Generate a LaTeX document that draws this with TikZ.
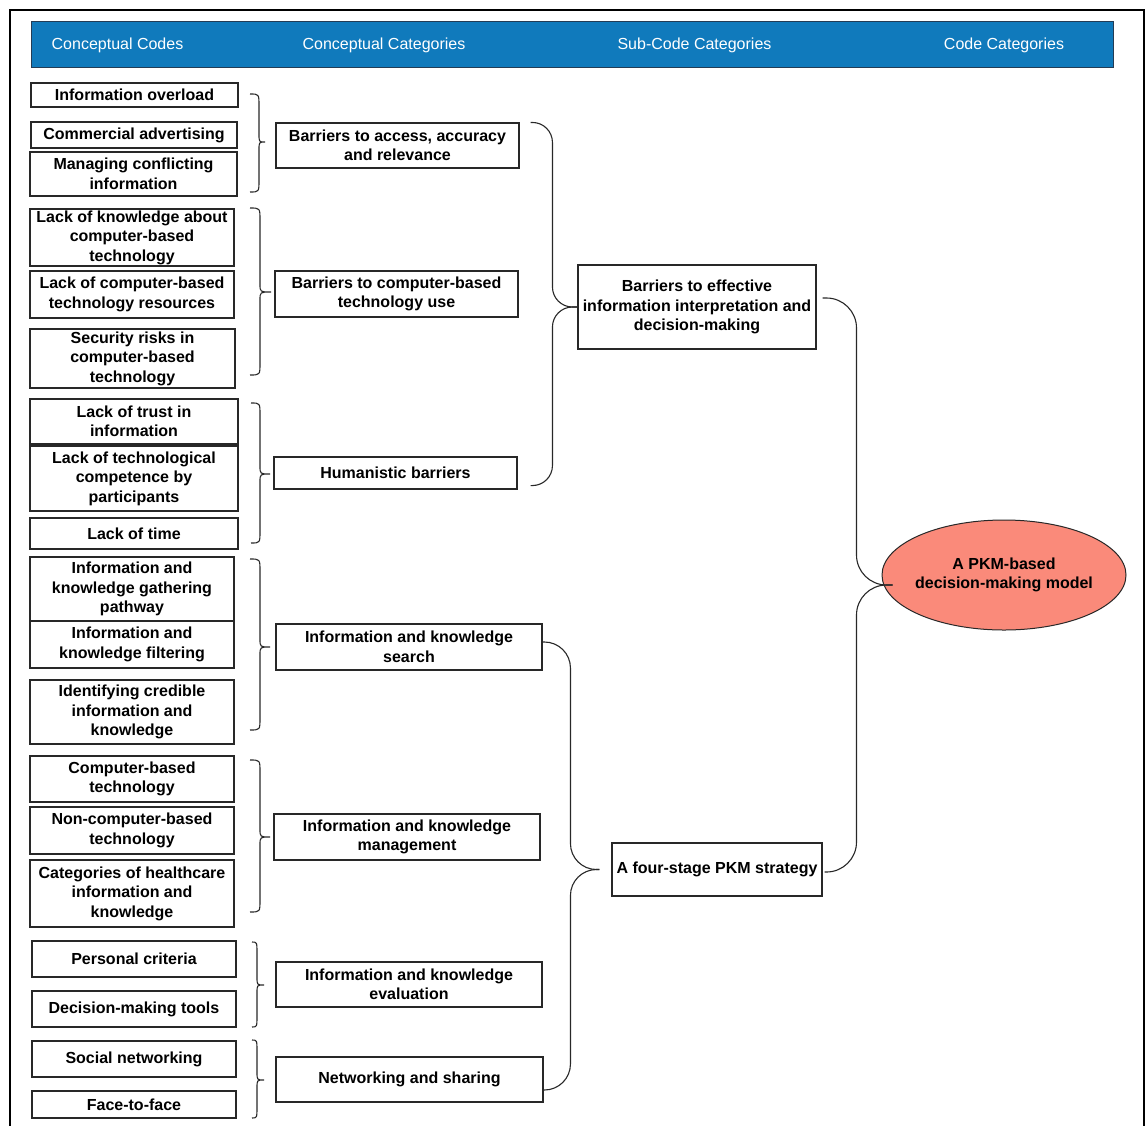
\documentclass[tikz,border=0pt]{standalone}
\usepackage{fontspec}
\setmainfont{Liberation Sans}
\usetikzlibrary{calc,shapes.geometric}

\definecolor{hdrblue}{RGB}{16,122,188}
\definecolor{hdredge}{RGB}{35,60,85}
\definecolor{salmon}{RGB}{250,138,122}
\definecolor{edge}{RGB}{40,40,40}

\tikzset{
  box/.style={draw=edge, line width=1.1pt, fill=white, inner sep=0pt, align=center,
    font=\bfseries\fontsize{16}{19.5}\selectfont},
  hdr/.style={text=white, inner sep=0pt, font=\fontsize{16}{19}\selectfont},
  brace/.style={draw=edge, line width=1.1pt},
}

% box: name, centre x, centre y, width, height, text
\newcommand{\bx}[6]{\node[box, minimum width=#4, minimum height=#5] (#1) at (#2,#3) {#6};}
% curly bracket: start x, spine x, tip x, top y, tip y, bottom y
\newcommand{\curly}[6]{\draw[brace] (#1,#4) .. controls (#2,#4) .. (#2,#4+12) -- (#2,#5-8)
  .. controls (#2,#5) .. (#3,#5) .. controls (#2,#5) .. (#2,#5+8) -- (#2,#6-12)
  .. controls (#2,#6) .. (#1,#6);}

\begin{document}
\begin{tikzpicture}[x=1pt, y=-1pt]
\useasboundingbox (0,0) rectangle (1146,1125);
\fill[white] (0,0) rectangle (1146,1125);

% outer frame
\draw[line width=2pt] (10,1130) -- (10,10) -- (1144,10) -- (1144,1130);

% header bar
\node[draw=hdredge, line width=0.8pt, fill=hdrblue, minimum width=1082, minimum height=46, inner sep=0pt] (bar) at (572,44) {};
\node[hdr] (h1) at (117.5,45.5) {Conceptual Codes};
\node[hdr] (h2) at (384,45.5) {Conceptual Categories};
\node[hdr] (h3) at (694.5,45.5) {Sub-Code Categories};
\node[hdr] (h4) at (1004,45.5) {Code Categories};

% conceptual codes
\bx{io}{134.5}{95}{207}{24}{Information overload}
\bx{ca}{134}{135}{206}{26}{Commercial advertising}
\bx{mci}{133.5}{174}{207}{44}{Managing conflicting\\information}
\bx{lk}{132}{237.5}{204}{57}{Lack of knowledge about\\computer-based\\technology}
\bx{lcr}{132}{294.5}{204}{47}{Lack of computer-based\\technology resources}
\bx{sr}{132.5}{358.5}{205}{59}{Security risks in\\computer-based\\technology}
\bx{lt}{134}{421.5}{208}{45}{Lack of trust in\\information}
\bx{ltc}{134}{478.5}{208}{65}{Lack of technological\\competence by\\participants}
\bx{lot}{134}{533.5}{208}{31}{Lack of time}
\bx{ikg}{132}{589}{204}{64}{Information and\\knowledge gathering\\pathway}
\bx{ikf}{132}{644.5}{204}{47}{Information and\\knowledge filtering}
\bx{icik}{132}{712}{204}{64}{Identifying credible\\information and\\knowledge}
\bx{cbt}{132}{779}{204}{46}{Computer-based\\technology}
\bx{ncbt}{132}{830.5}{204}{47}{Non-computer-based\\technology}
\bx{chik}{132}{893.5}{204}{67}{Categories of healthcare\\information and\\knowledge}
\bx{pc}{134}{959}{204}{36}{Personal criteria}
\bx{dmt}{134}{1009}{204}{36}{Decision-making tools}
\bx{sn}{134}{1059}{204}{36}{Social networking}
\bx{ftf}{134}{1104.5}{204}{27}{Face-to-face}

% conceptual categories
\bx{bacc}{397.5}{145.5}{243}{45}{Barriers to access, accuracy\\and relevance}
\bx{bcbt}{396.5}{294}{243}{46}{Barriers to computer-based\\technology use}
\bx{hum}{395.5}{473}{243}{32}{Humanistic barriers}
\bx{iks}{409}{647}{266}{46}{Information and knowledge\\search}
\bx{ikm}{407}{837}{266}{46}{Information and knowledge\\management}
\bx{ike}{409}{984.5}{266}{45}{Information and knowledge\\evaluation}
\bx{ns}{409.5}{1079.5}{267}{45}{Networking and sharing}

% sub-code categories
\bx{beff}{697}{307}{238}{84}{Barriers to effective\\information interpretation and\\decision-making}
\bx{pkm}{717}{869.5}{210}{53}{A four-stage PKM strategy}

% code category
\node[ellipse, draw=edge, line width=1pt, fill=salmon, minimum width=244, minimum height=110,
  inner xsep=-12pt, inner ysep=0pt, align=center, font=\bfseries\fontsize{16}{19.5}\selectfont] (ell) at (1004,575)
  {A PKM-based\\decision-making model};

% brackets grouping the conceptual codes
\curly{250}{259}{265}{94}{142}{192}
\curly{250}{260}{271}{208}{292}{375}
\curly{251}{260}{270}{403}{474}{543}
\curly{250}{260}{270}{559}{647}{730}
\curly{250}{260}{270}{760}{837}{912}
\curly{252}{257}{264}{942}{985}{1027}
\curly{252}{257}{264}{1040}{1080}{1118}

% brackets joining categories to sub-codes
\coordinate (t1) at (beff.west);
\draw[brace, rounded corners=20pt] ([xshift=11pt]bacc.north east) -| ([xshift=-25pt]t1) -- (t1);
\draw[brace, rounded corners=20pt] ([xshift=13pt,yshift=4pt]hum.south east) -| ([xshift=-25pt]t1) -- (t1);

\coordinate (t2) at ([xshift=-12pt]pkm.west);
\draw[brace, rounded corners=26pt] ([yshift=5pt]iks.east) -| ([xshift=-29pt]t2) -- (t2);
\draw[brace, rounded corners=26pt] ([yshift=-10.5pt]ns.east) -| ([xshift=-29pt]t2) -- (t2);

% bracket joining sub-codes to the model
\coordinate (t3) at ([xshift=11pt,yshift=-10pt]ell.west);
\draw[brace, rounded corners=30pt] ([xshift=6pt,yshift=9pt]beff.east) -| ([xshift=-36pt]t3) -- (t3);
\draw[brace, rounded corners=30pt] ([xshift=2pt,yshift=-2.5pt]pkm.east) -| ([xshift=-36pt]t3) -- (t3);
\end{tikzpicture}
\end{document}
